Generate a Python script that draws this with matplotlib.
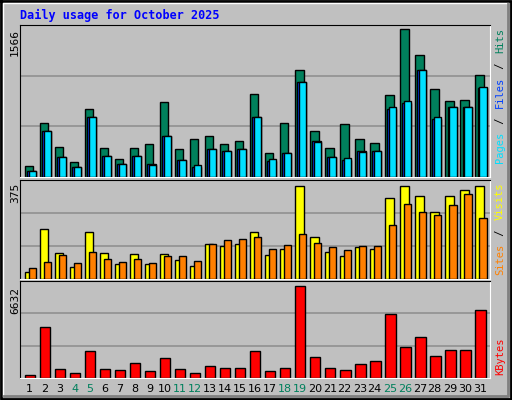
import matplotlib
matplotlib.use("Agg")
import matplotlib.pyplot as plt
import numpy as np

days = list(range(1, 32))
weekend_days = [4, 5, 11, 12, 18, 19, 25, 26]
hits = [120, 567, 322, 163, 716, 312, 195, 312, 344, 790, 291, 407, 439, 354, 376, 875,
        259, 567, 1130, 482, 312, 556, 397, 365, 864, 1566, 1290, 928, 801, 811, 1077]
files = [67, 492, 216, 110, 631, 227, 142, 227, 142, 439, 184, 110, 301, 280, 291, 631,
         174, 259, 1003, 386, 216, 184, 280, 280, 716, 779, 1130, 609, 737, 737, 939]
pages = [67, 492, 216, 110, 631, 227, 142, 227, 131, 439, 184, 131, 291, 280, 291, 631,
         195, 259, 1003, 375, 216, 206, 269, 280, 737, 801, 1130, 631, 737, 737, 949]
visits = [29, 200, 106, 49, 188, 106, 61, 102, 61, 102, 77, 53, 143, 135, 143, 188,
          98, 122, 375, 171, 110, 94, 130, 122, 326, 375, 334, 269, 334, 359, 375]
sites = [45, 69, 98, 65, 110, 82, 69, 82, 65, 94, 94, 73, 143, 159, 163, 171,
         122, 139, 183, 147, 130, 118, 135, 135, 216, 302, 269, 257, 298, 342, 245]
kbytes = [242, 3655, 678, 387, 1912, 678, 605, 1113, 532, 1476, 678, 387, 895, 750, 750, 1912,
          532, 750, 6632, 1549, 750, 605, 1041, 1258, 4598, 2202, 2928, 1621, 1984, 1984, 4888]

W, H = 512, 400
BG = "#c0c0c0"
MONO = "DejaVu Sans Mono"
fig = plt.figure(figsize=(W/100, H/100), dpi=100, facecolor=BG)

frame = fig.add_axes([0, 0, 1, 1]); frame.set_axis_off()
frame.set_xlim(0, W); frame.set_ylim(H, 0)
frame.plot([1, W-1, W-1, 1, 1], [1, 1, H-1, H-1, 1], color="black", lw=2)
frame.plot([3, 3, W-4], [H-4, 3, 3], color="white", lw=1)
frame.plot([4, W-4, W-4], [H-4, H-4, 4], color="#808080", lw=2)
frame.text(20, 15, "Daily usage for October 2025", color="#0000ff", fontsize=8.5,
           fontweight="bold", family=MONO, va="center", ha="left")

def mkax(top, bot):
    ax = fig.add_axes([20/W, 1-bot/H, 470/W, (bot-top)/H], facecolor=BG)
    ax.set_xlim(0.35, 31.65)
    for s in ["left", "top"]:
        ax.spines[s].set_color("black")
    for s in ["right", "bottom"]:
        ax.spines[s].set_color("white")
    ax.set_xticks([]); ax.set_yticks([])
    return ax

x = np.array(days, dtype=float)
kw = dict(edgecolor="black", linewidth=1, align="edge")
GRID = "#909090"

ax1 = mkax(25, 177)
top1 = max(hits) * 152/148
ax1.set_ylim(0, top1)
for g in [top1/3, 2*top1/3]:
    ax1.axhline(g, color=GRID, lw=1.2, zorder=0)
ax1.bar(x - 0.32, hits, width=0.55, color="#00805c", **kw, zorder=2)
ax1.bar(x - 0.18, files, width=0.6, color="#0040ff", **kw, zorder=3)
ax1.bar(x - 0.05, pages, width=0.47, color="#00e0ff", **kw, zorder=4)

ax2 = mkax(180, 279)
top2 = max(visits) * 99/93
ax2.set_ylim(0, top2)
for g in [top2/3, 2*top2/3]:
    ax2.axhline(g, color=GRID, lw=1.2, zorder=0)
ax2.bar(x - 0.32, visits, width=0.55, color="#ffff00", **kw, zorder=2)
ax2.bar(x - 0.05, sites, width=0.47, color="#ff8000", **kw, zorder=3)

ax3 = mkax(281, 378)
top3 = max(kbytes) * 97/92
ax3.set_ylim(0, top3)
for g in [top3/3, 2*top3/3]:
    ax3.axhline(g, color=GRID, lw=1.2, zorder=0)
ax3.bar(x - 0.32, kbytes, width=0.68, color="#ff0000", **kw, zorder=2)

for y, t in [(42, "1566"), (193, "375"), (300, "6632")]:
    frame.text(15, y, t, rotation=90, fontsize=8, family=MONO, ha="center", va="center")

def vlegend(ybottom, parts, step=6.7, fs=7.5):
    y = ybottom
    for t, c in parts:
        frame.text(500, y, t, rotation=90, color=c, fontsize=fs, family=MONO,
                   ha="center", va="bottom")
        y -= step * len(t.strip()) + (step * 2.2 if t.strip() != t else 0)
vlegend(163, [("Pages", "#00e0ff"), (" / ", "#000000"), ("Files", "#0040ff"),
              (" / ", "#000000"), ("Hits", "#00805c")])
vlegend(275, [("Sites", "#ff8000"), (" / ", "#000000"), ("Visits", "#ffff00")])
vlegend(375, [("KBytes", "#ff0000")])

for d in days:
    px = 20 + (d - 0.35) * 15
    frame.text(px, 389, str(d), fontsize=8, ha="center", va="center",
               color="#00805c" if d in weekend_days else "black")

fig.savefig("out.png", dpi=100, facecolor=BG)
